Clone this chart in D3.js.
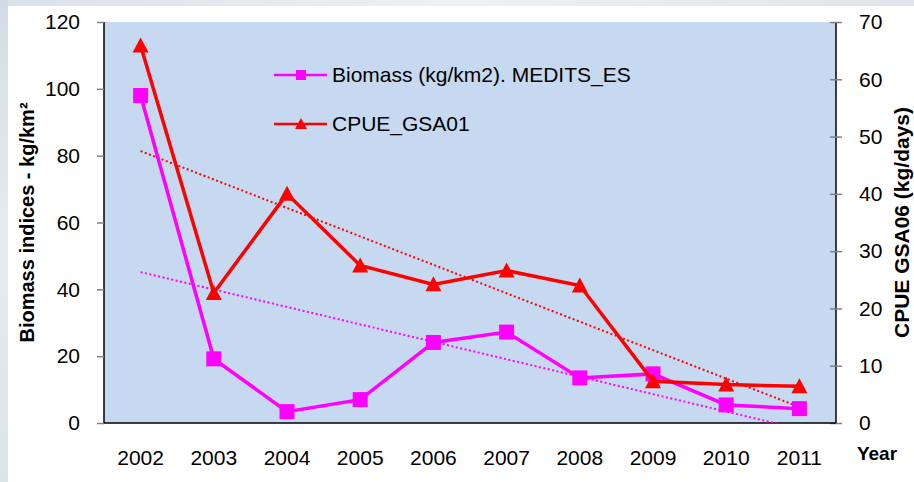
<!DOCTYPE html>
<html>
<head>
<meta charset="utf-8">
<script src="https://cdn.jsdelivr.net/npm/d3@7"></script>
<style>
  body { margin: 0; background: #ffffff; }
  svg { display: block; font-family: "Liberation Sans", Arial, sans-serif; }
</style>
</head>
<body>
<script>
// set the dimensions and margins of the graph
var W = 914, H = 482;
var margin = {top: 22, right: 78, bottom: 59, left: 104},
    width = W - margin.left - margin.right,
    height = H - margin.top - margin.bottom;

// data
var years = ["2002", "2003", "2004", "2005", "2006", "2007", "2008", "2009", "2010", "2011"];
var biomass = [98, 19.2, 3.4, 7.0, 24.1, 27.2, 13.5, 14.7, 5.4, 4.3];   // left axis
var cpue = [65.9, 22.7, 40.0, 27.5, 24.2, 26.6, 24.0, 7.3, 6.7, 6.4];   // right axis
var leftTicks = [0, 20, 40, 60, 80, 100, 120];
var rightTicks = [0, 10, 20, 30, 40, 50, 60, 70];
var seriesNames = ["Biomass (kg/km2). MEDITS_ES", "CPUE_GSA01"];

var magenta = "#ff00ff", red = "#ff0000";

// scales
var x = d3.scaleBand().domain(years).range([0, width]).padding(0);
var cx = function(d, i) { return x(years[i]) + x.bandwidth() / 2; };
var yL = d3.scaleLinear().domain([0, 120]).range([height, 0]);
var yR = d3.scaleLinear().domain([0, 70]).range([height, 0]);

// least squares trend (like the spreadsheet trendline)
function trend(vals) {
  var n = vals.length, mx = (n - 1) / 2, my = d3.mean(vals);
  var num = d3.sum(vals, function(v, i) { return (i - mx) * (v - my); });
  var den = d3.sum(vals, function(v, i) { return (i - mx) * (i - mx); });
  var b = num / den, a = my - b * mx;
  return vals.map(function(v, i) { return a + b * i; });
}

var svg = d3.select("body").append("svg")
    .attr("width", W)
    .attr("height", H);

// slide background (blurred strip on top and left)
var defs = svg.append("defs");
var gTop = defs.append("linearGradient").attr("id", "gtop").attr("x1", 0).attr("x2", 1);
gTop.append("stop").attr("offset", "0").attr("stop-color", "#d9e1ea");
gTop.append("stop").attr("offset", "0.5").attr("stop-color", "#eef1f5");
gTop.append("stop").attr("offset", "1").attr("stop-color", "#dfe5ec");
var gLeft = defs.append("linearGradient").attr("id", "gleft").attr("x1", 0).attr("x2", 0).attr("y1", 0).attr("y2", 1);
gLeft.append("stop").attr("offset", "0").attr("stop-color", "#d3dce6");
gLeft.append("stop").attr("offset", "0.5").attr("stop-color", "#e6ebf1");
gLeft.append("stop").attr("offset", "1").attr("stop-color", "#dbe3ec");
svg.append("rect").attr("width", W).attr("height", H).attr("fill", "#ffffff");
svg.append("rect").attr("width", W).attr("height", 6).attr("fill", "url(#gtop)");
svg.append("rect").attr("width", 8).attr("height", H).attr("fill", "url(#gleft)");

defs.append("clipPath").attr("id", "plotclip")
  .append("rect").attr("width", width).attr("height", height);

var g = svg.append("g")
    .attr("transform", "translate(" + margin.left + "," + margin.top + ")");

// plot area
g.append("rect")
    .attr("width", width).attr("height", height)
    .attr("fill", "#c6d9f0");

// left axis
var axL = g.append("g")
    .call(d3.axisLeft(yL).tickValues(leftTicks).tickSize(7).tickPadding(17));
axL.select(".domain").attr("stroke", "#000").attr("stroke-width", 1.5).attr("d", "M0,0V" + height);
axL.selectAll(".tick line").attr("stroke", "#808080").attr("stroke-width", 1.5);
axL.selectAll(".tick text").attr("font-size", 21).attr("fill", "#000").attr("font-family", "Liberation Sans, Arial");

// right axis
var axR = g.append("g").attr("transform", "translate(" + width + ",0)")
    .call(d3.axisRight(yR).tickValues(rightTicks).tickSize(6).tickPadding(17));
axR.select(".domain").attr("stroke", "#000").attr("stroke-width", 1.5).attr("d", "M0,0V" + height);
axR.selectAll(".tick line").attr("stroke", "#808080").attr("stroke-width", 1.5).attr("x1", -6);
axR.selectAll(".tick text").attr("font-size", 21).attr("fill", "#000").attr("font-family", "Liberation Sans, Arial");

// bottom axis
var axB = g.append("g").attr("transform", "translate(0," + height + ")")
    .call(d3.axisBottom(x).tickSize(0).tickPadding(27));
axB.select(".domain").attr("stroke", "#000").attr("stroke-width", 1.5).attr("d", "M0,0H" + width);
axB.selectAll(".tick text").attr("font-size", 21).attr("fill", "#000").attr("font-family", "Liberation Sans, Arial");

// trend lines
var plot = g.append("g").attr("clip-path", "url(#plotclip)");
var bTrend = trend(biomass), cTrend = trend(cpue);
plot.append("path")
    .datum(bTrend)
    .attr("fill", "none").attr("stroke", magenta).attr("stroke-width", 2)
    .attr("stroke-dasharray", "2,2.5")
    .attr("d", d3.line().x(cx).y(function(d) { return yL(d); }));
plot.append("path")
    .datum(cTrend)
    .attr("fill", "none").attr("stroke", red).attr("stroke-width", 2)
    .attr("stroke-dasharray", "2,2.5")
    .attr("d", d3.line().x(cx).y(function(d) { return yR(d); }));

// biomass series
g.append("path")
    .datum(biomass)
    .attr("fill", "none").attr("stroke", magenta).attr("stroke-width", 3.5)
    .attr("d", d3.line().x(cx).y(function(d) { return yL(d); }));
g.selectAll(".sq").data(biomass).enter().append("rect")
    .attr("class", "sq")
    .attr("x", function(d, i) { return cx(d, i) - 7.5; })
    .attr("y", function(d) { return yL(d) - 7.5; })
    .attr("width", 15).attr("height", 15)
    .attr("fill", magenta);

// cpue series
var tri = "M0,-8L8,7L-8,7Z";
g.append("path")
    .datum(cpue)
    .attr("fill", "none").attr("stroke", red).attr("stroke-width", 3.5)
    .attr("d", d3.line().x(cx).y(function(d) { return yR(d); }));
g.selectAll(".tri").data(cpue).enter().append("path")
    .attr("class", "tri")
    .attr("transform", function(d, i) { return "translate(" + cx(d, i) + "," + yR(d) + ")"; })
    .attr("d", tri)
    .attr("fill", red);

// legend
var legend = svg.append("g").attr("transform", "translate(274,75)");
var rows = legend.selectAll("g").data(seriesNames).enter().append("g")
    .attr("transform", function(d, i) { return "translate(0," + i * 49 + ")"; });
rows.append("line").attr("x1", 0).attr("x2", 53)
    .attr("stroke", function(d, i) { return i ? red : magenta; })
    .attr("stroke-width", 2.5);
rows.filter(function(d, i) { return i === 0; }).append("rect")
    .attr("x", 22).attr("y", -5).attr("width", 10).attr("height", 10).attr("fill", magenta);
rows.filter(function(d, i) { return i === 1; }).append("path")
    .attr("transform", "translate(27,0)").attr("d", "M0,-6L6,5L-6,5Z").attr("fill", red);
rows.append("text")
    .attr("x", 58).attr("dy", "0.35em")
    .attr("font-size", 21)
    .text(function(d) { return d; });

// axis titles
svg.append("text")
    .attr("transform", "translate(27," + (margin.top + height / 2) + ") rotate(-90)")
    .attr("text-anchor", "middle").attr("dy", "0.35em")
    .attr("font-size", 20).attr("font-weight", "bold")
    .text("Biomass indices - kg/km²");
svg.append("text")
    .attr("transform", "translate(902," + (margin.top + height / 2) + ") rotate(-90)")
    .attr("text-anchor", "middle").attr("dy", "0.35em")
    .attr("font-size", 21).attr("font-weight", "bold")
    .text("CPUE GSA06 (kg/days)");
svg.append("text")
    .attr("x", 877).attr("y", 453).attr("dy", "0.35em")
    .attr("text-anchor", "middle")
    .attr("font-size", 19).attr("font-weight", "bold")
    .text("Year");
</script>
</body>
</html>
